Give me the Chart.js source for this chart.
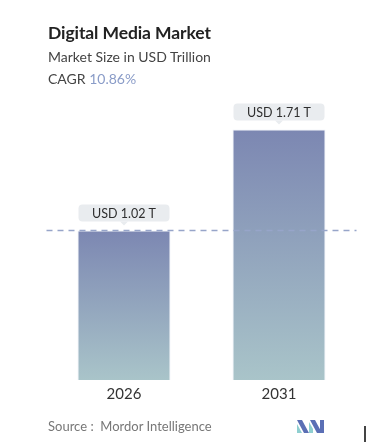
<!DOCTYPE html>
<html>
<head>
<meta charset="utf-8">
<script src="https://cdn.jsdelivr.net/npm/chart.js@4.4.1/dist/chart.umd.min.js"></script>
<style>
  html, body { margin:0; padding:0; background:#fff; }
  #wrap { position:relative; width:367px; height:442px; overflow:hidden; font-family:Lato, "Open Sans", sans-serif; }
  canvas { position:absolute; left:0; top:0; }
  .t { position:absolute; white-space:nowrap; }
  #title { left:48px; top:22px; font-size:17.5px; font-weight:700; color:#222; letter-spacing:-0.1px; }
  #sub { left:48px; top:48px; font-size:14px; color:#444; }
  #cagr { left:48px; top:70px; font-size:14px; color:#444; }
  #cagr span { color:#8a9cc8; }
  #src { left:48px; top:418px; font-size:13px; color:#777; }
  #mark { position:absolute; left:364px; top:426px; width:1.5px; height:16px; background:#444; }
</style>
</head>
<body>
<div id="wrap">
  <canvas id="c" width="367" height="442"></canvas>
  <div class="t" id="title">Digital Media Market</div>
  <div class="t" id="sub">Market Size in USD Trillion</div>
  <div class="t" id="cagr">CAGR <span>10.86%</span></div>
  <div class="t" id="src">Source :&nbsp; Mordor Intelligence</div>
  <div id="mark"></div>
</div>
<script>
const categories = ["2026", "2031"];
const values = [1.02, 1.71];
const valueLabels = ["USD 1.02 T", "USD 1.71 T"];

const ctx = document.getElementById('c').getContext('2d');

function barGradient(context) {
  const chart = context.chart;
  const area = chart.chartArea;
  const ys = chart.scales && chart.scales.y;
  if (!area || !ys || context.dataIndex === undefined) return '#8a9cc0';
  const top = ys.getPixelForValue(values[context.dataIndex]);
  const bottom = ys.getPixelForValue(0);
  if (!isFinite(top) || !isFinite(bottom) || top === bottom) return '#8a9cc0';
  const g = chart.ctx.createLinearGradient(0, top, 0, bottom);
  g.addColorStop(0, '#7c87b2');
  g.addColorStop(1, '#a9c4c9');
  return g;
}

const decorPlugin = {
  id: 'decor',
  afterDatasetsDraw(chart) {
    const c = chart.ctx;
    const area = chart.chartArea;
    const y = chart.scales.y;
    const meta = chart.getDatasetMeta(0);
    const yy = y.getPixelForValue(values[0]);
    c.save();
    c.strokeStyle = '#97a5c9';
    c.lineWidth = 1.5;
    c.setLineDash([6, 5]);
    c.beginPath();
    c.moveTo(area.left, yy);
    c.lineTo(area.right, yy);
    c.stroke();
    c.restore();
    meta.data.forEach((bar, i) => {
      const w = 91, h = 17;
      const x0 = bar.x - w / 2;
      const y1 = bar.y - 9;
      const y0 = y1 - h;
      c.save();
      c.fillStyle = '#e9ecef';
      c.beginPath();
      c.roundRect(x0, y0, w, h, 4);
      c.fill();
      c.beginPath();
      c.moveTo(bar.x - 4, y1);
      c.lineTo(bar.x, y1 + 4);
      c.lineTo(bar.x + 4, y1);
      c.closePath();
      c.fill();
      c.fillStyle = '#2e2e2e';
      c.font = '12.5px Lato, "Open Sans", sans-serif';
      c.textAlign = 'center';
      c.textBaseline = 'middle';
      c.fillText(valueLabels[i], bar.x, y0 + h / 2 + 0.5);
      c.restore();
    });
    c.save();
    const lx = 297, ly = 420;
    c.fillStyle = '#5b6fb5';
    c.beginPath(); c.moveTo(lx, ly); c.lineTo(lx + 5, ly); c.lineTo(lx + 12, ly + 13); c.lineTo(lx + 7, ly + 13); c.closePath(); c.fill();
    c.fillStyle = '#8fcfd0';
    c.beginPath(); c.moveTo(lx, ly + 4); c.lineTo(lx + 5, ly + 13); c.lineTo(lx, ly + 13); c.closePath(); c.fill();
    c.fillStyle = '#5b6fb5';
    c.beginPath(); c.moveTo(lx + 13, ly); c.lineTo(lx + 18, ly); c.lineTo(lx + 25, ly + 13); c.lineTo(lx + 20, ly + 13); c.closePath(); c.fill();
    c.fillStyle = '#8fcfd0';
    c.beginPath(); c.moveTo(lx + 12, ly + 2); c.lineTo(lx + 16, ly + 9); c.lineTo(lx + 16, ly + 13); c.lineTo(lx + 12, ly + 13); c.closePath(); c.fill();
    c.fillStyle = '#5b6fb5';
    c.fillRect(lx + 23, ly, 4, 13);
    c.restore();
  }
};

new Chart(ctx, {
  type: 'bar',
  data: {
    labels: categories,
    datasets: [{
      data: values,
      backgroundColor: barGradient,
      borderColor: 'rgba(235,240,248,0.9)',
      borderWidth: 1,
      barPercentage: 0.6,
      categoryPercentage: 1.0
    }]
  },
  options: {
    responsive: false,
    animation: false,
    devicePixelRatio: 1,
    layout: { padding: { left: 46.5, right: 10.5, top: 87, bottom: 34 } },
    plugins: { legend: { display: false }, tooltip: { enabled: false }, title: { display: false } },
    scales: {
      x: {
        grid: { display: false, drawTicks: false },
        border: { display: false },
        ticks: { color: '#333', font: { size: 15, family: 'Lato, "Open Sans", sans-serif' }, padding: 5 }
      },
      y: {
        display: false,
        min: 0,
        max: 2
      }
    }
  },
  plugins: [decorPlugin]
});
</script>
</body>
</html>
